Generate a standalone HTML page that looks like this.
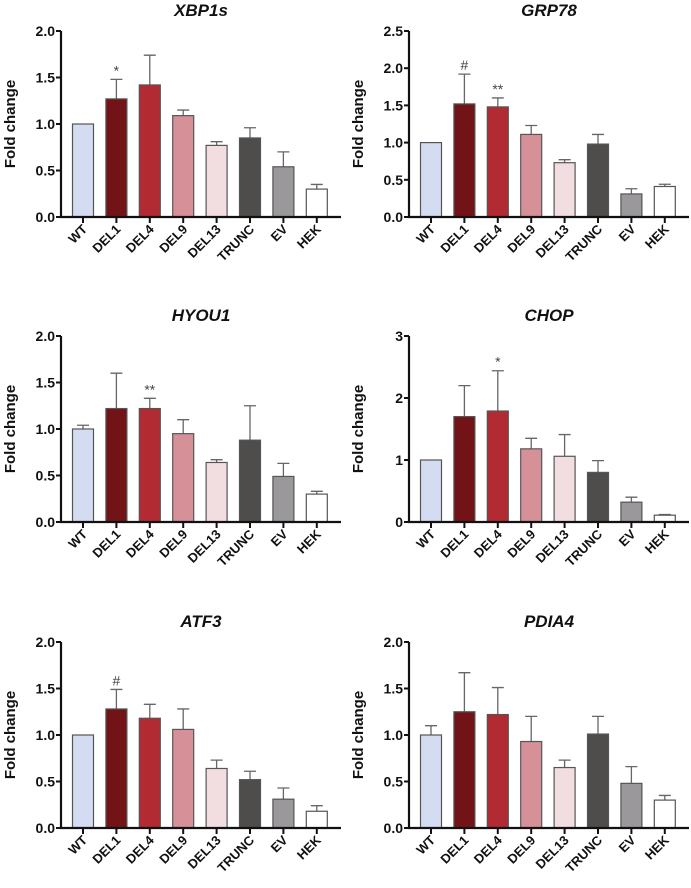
<!DOCTYPE html>
<html><head><meta charset="utf-8">
<style>
body{margin:0;background:#fff;}
svg{display:block;font-family:"Liberation Sans",sans-serif;}
</style></head>
<body>
<svg id="fig" width="691" height="888" viewBox="0 0 691 888"></svg>
<script>
const categories = ["WT","DEL1","DEL4","DEL9","DEL13","TRUNC","EV","HEK"];
const colors = ["#d4dcf2","#721417","#b22a32","#d69198","#f2dde0","#4f4d4c","#9a989b","#ffffff"];
const titles = ["XBP1s","GRP78","HYOU1","CHOP","ATF3","PDIA4"];
const yMaxes = [2.0,2.5,2.0,3,2.0,2.0];
const yTickLabels = [
  ["0.0","0.5","1.0","1.5","2.0"],
  ["0.0","0.5","1.0","1.5","2.0","2.5"],
  ["0.0","0.5","1.0","1.5","2.0"],
  ["0","1","2","3"],
  ["0.0","0.5","1.0","1.5","2.0"],
  ["0.0","0.5","1.0","1.5","2.0"]
];
const xbp1sMeans = [1,1.27,1.42,1.09,0.77,0.85,0.54,0.30];
const xbp1sErrTop = [1,1.48,1.74,1.15,0.81,0.96,0.70,0.35];
const grp78Means = [1,1.52,1.48,1.11,0.73,0.98,0.31,0.41];
const grp78ErrTop = [1,1.92,1.60,1.23,0.77,1.11,0.38,0.44];
const hyou1Means = [1,1.22,1.22,0.95,0.64,0.88,0.49,0.30];
const hyou1ErrTop = [1.04,1.60,1.33,1.10,0.67,1.25,0.63,0.33];
const chopMeans = [1,1.70,1.79,1.18,1.06,0.80,0.32,0.11];
const chopErrTop = [1,2.20,2.44,1.35,1.41,0.99,0.40,0.12];
const atf3Means = [1,1.28,1.18,1.06,0.64,0.52,0.31,0.18];
const atf3ErrTop = [1,1.49,1.33,1.28,0.73,0.61,0.43,0.24];
const pdia4Means = [1,1.25,1.22,0.93,0.65,1.01,0.48,0.30];
const pdia4ErrTop = [1.10,1.67,1.51,1.20,0.73,1.20,0.66,0.35];
const annotations = [
  [{i:1,t:"*"}],
  [{i:1,t:"#"},{i:2,t:"**"}],
  [{i:2,t:"**"}],
  [{i:2,t:"*"}],
  [{i:1,t:"#"}],
  []
];
const meansAll=[xbp1sMeans,grp78Means,hyou1Means,chopMeans,atf3Means,pdia4Means];
const errAll=[xbp1sErrTop,grp78ErrTop,hyou1ErrTop,chopErrTop,atf3ErrTop,pdia4ErrTop];

const NS="http://www.w3.org/2000/svg";
const svg=document.getElementById('fig');
function mk(tag,attrs,parent){const e=document.createElementNS(NS,tag);for(const k in attrs)e.setAttribute(k,attrs[k]);(parent||svg).appendChild(e);return e;}

const colX=[61,409], rowTop=[31,336,642], plotH=186;
titles.forEach((title,p)=>{
  const ax=colX[p%2], top=rowTop[Math.floor(p/2)], zero=top+plotH;
  const g=mk('g',{});
  
  
  const yMax=yMaxes[p];
  const yScale=v=>zero-v/yMax*plotH;
  const xScale=i=>ax+22+i*33.4;
  const bw=21;
  const t=mk('text',{x:ax+140,y:top-15,'text-anchor':'middle','font-size':17,'font-weight':'bold','font-style':'italic',fill:'#111'},g);
  t.textContent=title;
  
  
  const yt=mk('text',{x:0,y:0,transform:`translate(${ax-46},${top+plotH/2}) rotate(-90)`,'text-anchor':'middle','font-size':15,'font-weight':'bold',fill:'#111'},g);
  yt.textContent="Fold change";
  
  
  meansAll[p].forEach((v,i)=>{
    const cx=xScale(i);
    const e=errAll[p][i];
    if(e>v){
      const el=mk('path',{d:`M${cx},${yScale(v)}V${yScale(e)}M${cx-6},${yScale(e)}H${cx+6}`,stroke:'#666','stroke-width':1.3,fill:'none'},g);
      
      
    }
    const r=mk('rect',{x:cx-bw/2,y:yScale(v),width:bw,height:zero-yScale(v),fill:colors[i],stroke:'#555','stroke-width':1.2},g);
    
    
  });
  annotations[p].forEach(a=>{
    const s=mk('text',{x:xScale(a.i),y:yScale(errAll[p][a.i])-4,'text-anchor':'middle','font-size':14,fill:'#444'},g);
    s.textContent=a.t;
    
    
  });
  const axl=mk('path',{d:`M${ax},${top}V${zero}H${ax+280}`,stroke:'#111','stroke-width':2.2,fill:'none'},g);
  
  
  yTickLabels[p].forEach((lab,k)=>{
    const v=yMax*k/(yTickLabels[p].length-1);
    const y=yScale(v);
    mk('line',{x1:ax-5,x2:ax,y1:y,y2:y,stroke:'#111','stroke-width':2},g);
    const tl=mk('text',{x:ax-6,y:y+5,'text-anchor':'end','font-size':14,'font-weight':'bold',fill:'#111'},g);
    tl.textContent=lab;
    
    
  });
  categories.forEach((c,i)=>{
    const cx=xScale(i);
    mk('line',{x1:cx,x2:cx,y1:zero,y2:zero+6,stroke:'#111','stroke-width':2},g);
    const xl=mk('text',{x:0,y:0,transform:`translate(${cx+5},${zero+13}) rotate(-45)`,'text-anchor':'end','font-size':13,'font-weight':'bold',fill:'#111'},g);
    xl.textContent=c;
    
    
  });
});
</script>
</body></html>
